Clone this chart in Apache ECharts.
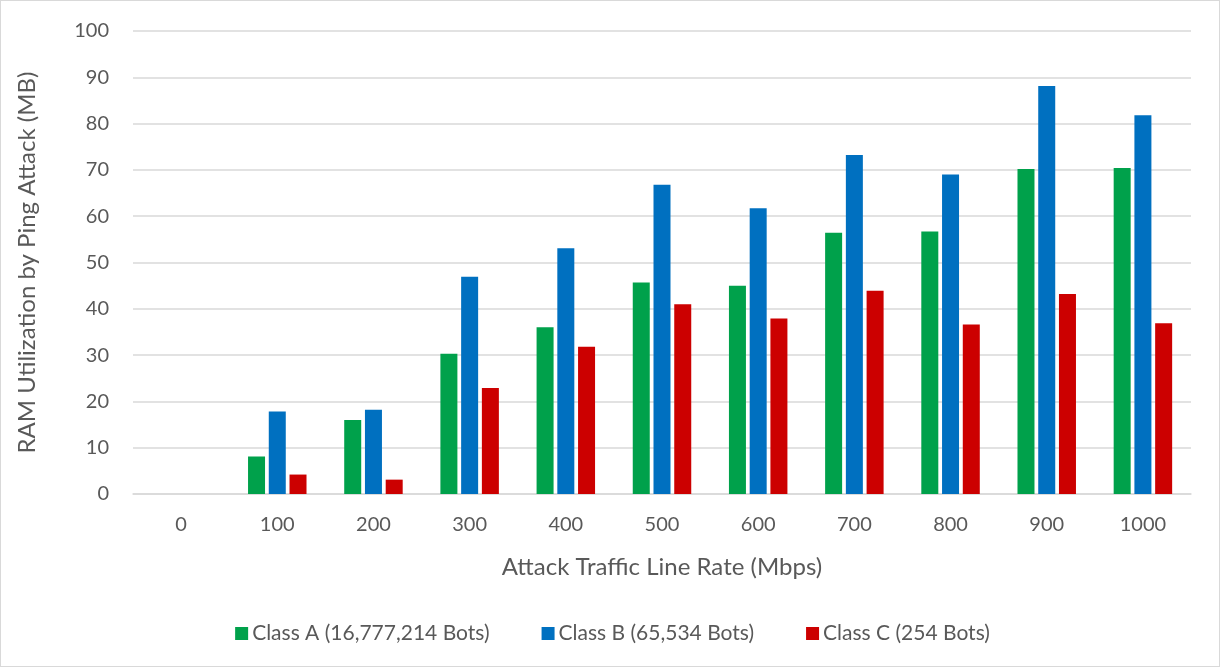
<!DOCTYPE html>
<html>
<head>
<meta charset="utf-8">
<script src="https://cdn.jsdelivr.net/npm/echarts@6/dist/echarts.min.js"></script>
<style>
  html, body { margin: 0; padding: 0; background: #fff; }
  #frame { position: absolute; left: 0; top: 0; width: 1220px; height: 667px; border: 1px solid #d9d9d9; box-sizing: border-box; }
  #chart { width: 1225px; height: 671px; }
</style>
</head>
<body>
<div id="frame"></div>
<div id="chart"></div>
<script>
// Attack traffic line rates (Mbps)
const categories = ['0', '100', '200', '300', '400', '500', '600', '700', '800', '900', '1000'];
// RAM utilisation (MB) per address class
const classA = [0, 8.1, 16.0, 30.3, 36.0, 45.7, 45.0, 56.4, 56.7, 70.2, 70.4];
const classB = [0, 17.8, 18.2, 46.9, 53.1, 66.8, 61.7, 73.2, 69.0, 88.1, 81.8];
const classC = [0, 4.2, 3.1, 22.9, 31.8, 41.0, 37.9, 43.9, 36.6, 43.2, 36.9];
const seriesNames = ['Class A (16,777,214 Bots)', 'Class B (65,534 Bots)', 'Class C (254 Bots)'];
const yTicks = { min: 0, max: 100, interval: 10 };

const FONT = 'Lato, "Open Sans", sans-serif';
const TEXT = '#595959';
const colors = ['#00A14B', '#0070C0', '#CC0000'];

const chart = echarts.init(document.getElementById('chart'), null, { renderer: 'canvas' });

function barSeries(name, data, color) {
  return {
    name: name,
    type: 'bar',
    data: data,
    barWidth: 17,
    barGap: '22%',
    itemStyle: { color: color },
    emphasis: { disabled: true }
  };
}

chart.setOption({
  animation: false,
  color: colors,
  textStyle: { fontFamily: FONT },
  grid: { left: 133, right: 34, top: 31, bottom: 177, containLabel: false },
  legend: {
    bottom: 22,
    left: 'center',
    itemWidth: 13,
    itemHeight: 13,
    itemGap: 52,
    icon: 'rect',
    textStyle: { fontFamily: FONT, fontSize: 21, color: TEXT, padding: [0, 0, 0, -1] },
    data: seriesNames
  },
  xAxis: {
    type: 'category',
    data: categories,
    name: 'Attack Traffic Line Rate (Mbps)',
    nameLocation: 'middle',
    nameGap: 61,
    nameTextStyle: { fontFamily: FONT, fontSize: 24, color: TEXT },
    axisLine: { show: true, lineStyle: { color: '#d9d9d9', width: 1.5 } },
    axisTick: { show: false },
    axisLabel: { fontFamily: FONT, fontSize: 20, color: TEXT, margin: 21 }
  },
  yAxis: {
    type: 'value',
    min: yTicks.min,
    max: yTicks.max,
    interval: yTicks.interval,
    name: 'RAM Utilization by Ping Attack (MB)',
    nameLocation: 'middle',
    nameRotate: 90,
    nameGap: 94,
    nameTextStyle: { fontFamily: FONT, fontSize: 24, color: TEXT },
    axisLine: { show: false },
    axisTick: { show: false },
    axisLabel: { fontFamily: FONT, fontSize: 20, color: TEXT, margin: 24 },
    splitLine: { lineStyle: { color: '#d9d9d9', width: 1.5 } }
  },
  series: [
    barSeries(seriesNames[0], classA, colors[0]),
    barSeries(seriesNames[1], classB, colors[1]),
    barSeries(seriesNames[2], classC, colors[2])
  ]
});
</script>
</body>
</html>
